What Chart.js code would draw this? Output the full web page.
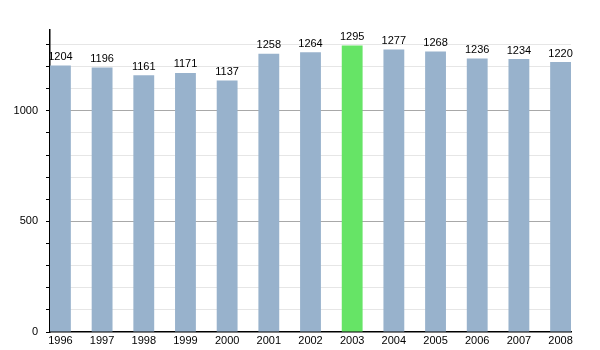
<!DOCTYPE html>
<html>
<head>
<meta charset="utf-8">
<title>Population 1996-2008</title>
<script src="https://cdn.jsdelivr.net/npm/chart.js@4"></script>
<style>
  html, body { margin: 0; padding: 0; background: #fff; }
  #chart { display: block; }
</style>
</head>
<body>
<canvas id="chart" width="600" height="350"></canvas>
<script>
const years = ["1996", "1997", "1998", "1999", "2000", "2001", "2002", "2003", "2004", "2005", "2006", "2007", "2008"];
const population = [1204, 1196, 1161, 1171, 1137, 1258, 1264, 1295, 1277, 1268, 1236, 1234, 1220];
const highlightYear = "2003";
const yLabels = [0, 500, 1000];

const barBlue = "#98b2cc";
const barGreen = "#66e466";

// bars sit at the left of each year slot, so use a linear x scale
const points = population.map((v, i) => ({ x: i + 0.25, y: v }));

const valueLabels = {
  id: "valueLabels",
  afterDatasetsDraw(chart) {
    const { ctx } = chart;
    const meta = chart.getDatasetMeta(0);
    ctx.save();
    ctx.font = "11px 'Liberation Sans', Arial, sans-serif";
    ctx.fillStyle = "#000";
    ctx.textAlign = "center";
    ctx.textBaseline = "bottom";
    meta.data.forEach((bar, i) => {
      ctx.fillText(String(population[i]), bar.x, bar.y - 3);
    });
    ctx.restore();
  }
};

new Chart(document.getElementById("chart"), {
  type: "bar",
  data: {
    datasets: [
      {
        data: points,
        backgroundColor: years.map((y) => (y === highlightYear ? barGreen : barBlue)),
        borderWidth: 0,
        barPercentage: 0.5,
        categoryPercentage: 1.0
      }
    ]
  },
  options: {
    responsive: false,
    animation: false,
    layout: { padding: { top: 30, right: 29, left: 0, bottom: 0 } },
    plugins: {
      legend: { display: false },
      tooltip: { enabled: false }
    },
    scales: {
      x: {
        type: "linear",
        min: 0,
        max: 12.5,
        offset: false,
        grid: { display: false, drawTicks: false, offset: false },
        border: { color: "#000", width: 1.5 },
        afterBuildTicks(scale) {
          scale.ticks = years.map((_, i) => ({ value: i + 0.25 }));
        },
        afterFit(scale) { scale.height = 18; },
        ticks: {
          autoSkip: false,
          maxRotation: 0,
          padding: 2,
          color: "#000",
          font: { family: "'Liberation Sans', Arial, sans-serif", size: 11 },
          callback: (value, index) => years[index]
        }
      },
      y: {
        min: 0,
        max: 1365,
        afterFit(scale) { scale.width = 50; },
        border: { color: "#000", width: 1.5 },
        grid: {
          tickLength: 4,
          color: (c) => {
            const v = c.tick.value;
            if (v === 0 || v % 100 !== 0) return "rgba(0,0,0,0)";
            return v % 500 === 0 ? "#a8a8a8" : "#e6e6e6";
          },
          tickColor: (c) => (c.tick.value % 100 === 0 ? "#000" : "rgba(0,0,0,0)")
        },
        ticks: {
          stepSize: 100,
          autoSkip: false,
          padding: 8,
          color: "#000",
          font: { family: "'Liberation Sans', Arial, sans-serif", size: 11 },
          callback: (value) => (yLabels.includes(value) ? String(value) : "")
        }
      }
    }
  },
  plugins: [valueLabels]
});
</script>
</body>
</html>
